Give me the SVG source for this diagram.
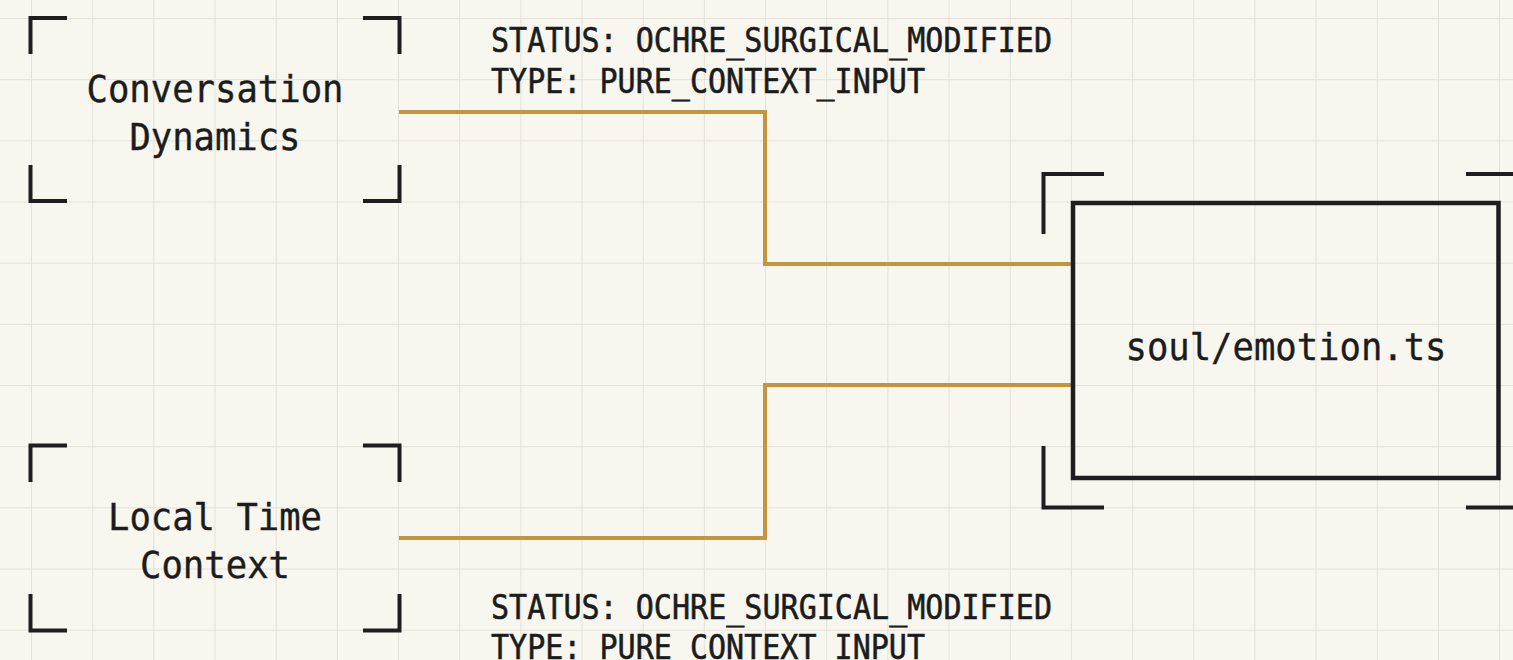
<svg xmlns="http://www.w3.org/2000/svg" width="1513" height="660" viewBox="0 0 1513 660">
  <defs>
    <pattern id="grid" patternUnits="userSpaceOnUse" x="31" y="18" width="61.17" height="61.17">
      <path d="M0 0V61.17M0 0H61.17" fill="none" stroke="#e3e1d8" stroke-width="2"/>
    </pattern>
    <style>
      .bracket { fill: none; stroke: #1e1e1e; stroke-width: 4; stroke-linecap: square; stroke-linejoin: miter; }
      .box { fill: none; stroke: #1e1e1e; stroke-width: 4.5; }
      .label { font-family: "DejaVu Sans Mono", "Liberation Mono", monospace; font-size: 38px; fill: #1c1c1c; stroke: #1c1c1c; stroke-width: 0.4; text-anchor: middle; }
      .meta { font-family: "DejaVu Sans Mono", "Liberation Mono", monospace; font-size: 34px; fill: #1c1c1c; stroke: #1c1c1c; stroke-width: 0.6; }
      .wire { fill: none; stroke: #c4953c; stroke-width: 4; stroke-linejoin: miter; }
    </style>
  </defs>

  <!-- paper and grid -->
  <rect width="1513" height="660" fill="#f8f7ef"/>
  <rect width="1513" height="660" fill="url(#grid)"/>

  <!-- connectors -->
  <g id="connectors">
    <path class="wire" d="M399 112H765V264H1071"/>
    <path class="wire" d="M399 538H765V385H1071"/>
  </g>

  <!-- status annotations -->
  <g id="annotation-top">
    <text class="meta" x="491" y="52" textLength="561" lengthAdjust="spacingAndGlyphs">STATUS: OCHRE_SURGICAL_MODIFIED</text>
    <text class="meta" x="491" y="93" textLength="434" lengthAdjust="spacingAndGlyphs">TYPE: PURE_CONTEXT_INPUT</text>
  </g>
  <g id="annotation-bottom">
    <text class="meta" x="491" y="619" textLength="561" lengthAdjust="spacingAndGlyphs">STATUS: OCHRE_SURGICAL_MODIFIED</text>
    <text class="meta" x="491" y="659" textLength="434" lengthAdjust="spacingAndGlyphs">TYPE: PURE_CONTEXT_INPUT</text>
  </g>

  <!-- input: conversation dynamics -->
  <g id="node-conversation-dynamics">
    <path class="bracket" d="M30.5 52V18H65M365 18H399.5V52M30.5 167V201H65M365 201H399.5V167"/>
    <text class="label" x="215" y="102" textLength="257" lengthAdjust="spacingAndGlyphs">Conversation</text>
    <text class="label" x="215" y="150" textLength="171" lengthAdjust="spacingAndGlyphs">Dynamics</text>
  </g>

  <!-- input: local time context -->
  <g id="node-local-time-context">
    <path class="bracket" d="M30.5 480V445.5H65M365 445.5H399.5V480M30.5 596V630.5H65M365 630.5H399.5V596"/>
    <text class="label" x="215" y="530" textLength="214" lengthAdjust="spacingAndGlyphs">Local Time</text>
    <text class="label" x="215" y="578" textLength="150" lengthAdjust="spacingAndGlyphs">Context</text>
  </g>

  <!-- target module -->
  <g id="node-soul-emotion">
    <path class="bracket" d="M1043.5 232V174H1102M1468 174H1528V232M1043.5 448V507.5H1102M1468 507.5H1528V448"/>
    <rect class="box" x="1073" y="203" width="425.5" height="275"/>
    <text class="label" x="1286" y="360" textLength="321" lengthAdjust="spacingAndGlyphs">soul/emotion.ts</text>
  </g>
</svg>
